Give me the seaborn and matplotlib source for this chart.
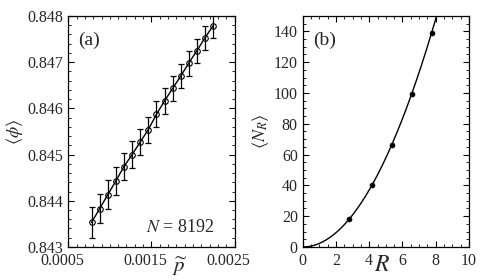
import numpy as np
import pandas as pd
import matplotlib
matplotlib.use('Agg')
import matplotlib.pyplot as plt
import matplotlib.transforms as mtransforms
import seaborn as sns
from matplotlib.ticker import MultipleLocator

# Panel (a): <phi> vs p-tilde, N = 8192
p_vals = [0.00078, 0.000878, 0.000975, 0.001073, 0.00117, 0.001268, 0.001365, 0.001463,
          0.00156, 0.001658, 0.001755, 0.001853, 0.00195, 0.002048, 0.002145, 0.002243]
phi_vals = [0.84353, 0.84383, 0.84413, 0.84443, 0.84474, 0.84500, 0.84527, 0.84554,
            0.84587, 0.84616, 0.84643, 0.84670, 0.84698, 0.84725, 0.84753, 0.84779]
phi_err = [0.00033, 0.00032, 0.00031, 0.00030, 0.00030, 0.00029, 0.00029, 0.00028,
           0.00028, 0.00028, 0.00027, 0.00027, 0.00027, 0.00026, 0.00026, 0.00026]

# Panel (b): <N_R> vs R
R_vals = [2.76, 4.14, 5.37, 6.55, 7.75]
NR_vals = [18, 40, 66, 99.5, 139]

sns.set_style('ticks')
plt.rcParams['font.family'] = ['Liberation Serif', 'DejaVu Serif']
plt.rcParams['mathtext.fontset'] = 'stix'

fig, (ax1, ax2) = plt.subplots(1, 2, figsize=(4.84, 2.8), dpi=100)
fig.subplots_adjust(left=0.141, right=0.969, top=0.943, bottom=0.118, wspace=0.41)

df_a = pd.DataFrame({'p': p_vals, 'phi': phi_vals})
ax1.errorbar(p_vals, phi_vals, yerr=phi_err, fmt='none', ecolor='black', elinewidth=0.9,
             capsize=2, capthick=0.9)
sns.lineplot(data=df_a, x='p', y='phi', ax=ax1, color='black', lw=1.0, marker='o',
             markersize=4, markerfacecolor='none', markeredgecolor='black', markeredgewidth=0.8)
ax1.set_xlim(0.0005, 0.0025)
ax1.set_ylim(0.843, 0.848)
ax1.set_xticks([0.0005, 0.0015, 0.0025])
ax1.set_xticklabels(['0.0005', '0.0015', '0.0025'])
ax1.set_yticks([0.843, 0.844, 0.845, 0.846, 0.847, 0.848])
ax1.set_yticklabels(['0.843', '0.844', '0.845', '0.846', '0.847', '0.848'])
ax1.xaxis.set_minor_locator(MultipleLocator(0.0001))
ax1.yaxis.set_minor_locator(MultipleLocator(0.0002))
ax1.set_xlabel(r'$\widetilde{p}$', fontsize=15)
ax1.xaxis.set_label_coords(0.67, -0.035)
ax1.set_ylabel(r'$\langle\phi\rangle$', fontsize=13, labelpad=2)
ax1.text(0.06, 0.93, '(a)', transform=ax1.transAxes, fontsize=14, va='top')
ax1.text(0.88, 0.085, r'$N$ = 8192', transform=ax1.transAxes, fontsize=13, ha='right', va='center')

# quadratic fit curve through the dots
c = np.sum(np.array(NR_vals) * np.array(R_vals) ** 2) / np.sum(np.array(R_vals) ** 4)
R_line = np.linspace(0, 8.2, 200)
df_fit = pd.DataFrame({'R': R_line, 'N': c * R_line ** 2})
sns.lineplot(data=df_fit, x='R', y='N', ax=ax2, color='black', lw=1.0)
sns.scatterplot(x=R_vals, y=NR_vals, ax=ax2, color='black', s=14, edgecolor='black', zorder=3)
ax2.set_xlim(0, 10)
ax2.set_ylim(0, 150)
ax2.set_xticks([0, 2, 4, 6, 8, 10])
ax2.set_yticks([0, 20, 40, 60, 80, 100, 120, 140])
ax2.xaxis.set_minor_locator(MultipleLocator(0.5))
ax2.yaxis.set_minor_locator(MultipleLocator(5))
ax2.set_xlabel(r'$R$', fontsize=17)
ax2.xaxis.set_label_coords(0.48, -0.035)
ax2.set_ylabel(r'$\langle N_R\rangle$', fontsize=13, labelpad=2)
ax2.text(0.06, 0.93, '(b)', transform=ax2.transAxes, fontsize=14, va='top')

for ax in (ax1, ax2):
    ax.tick_params(which='both', direction='in', top=True, right=True, labelsize=11.5, color='black')
    ax.tick_params(which='major', length=4, width=0.8)
    ax.tick_params(which='minor', length=2, width=0.6)
    ax.tick_params(axis='x', pad=4)
    for s in ax.spines.values():
        s.set_linewidth(0.9)
        s.set_color('black')

# x tick labels of panel (a) sit a little left of their ticks in the original
shift = mtransforms.ScaledTranslation(-0.06, 0, fig.dpi_scale_trans)
for tick in ax1.xaxis.get_major_ticks():
    tick.label1.set_transform(tick.label1.get_transform() + shift)

fig.savefig('out.png', dpi=100)
